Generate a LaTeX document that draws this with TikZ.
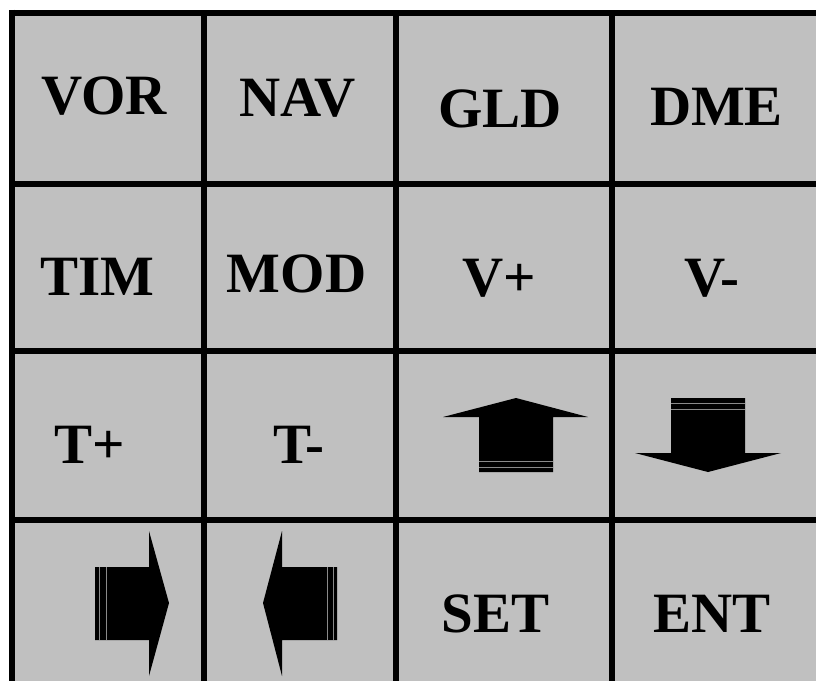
\documentclass[tikz,border=0pt]{standalone}
\usepackage{fontspec}
\setmainfont{Liberation Serif}
\definecolor{keygray}{HTML}{C0C0C0}
\definecolor{stripegray}{HTML}{8A8A8A}
\tikzset{
  gridline/.style={line width=6pt, black},
  keylabel/.style={anchor=base, inner sep=0pt, font=\fontsize{57}{60}\selectfont\bfseries},
  arrowshape/.style={fill=black, draw=none},
  stripe/.style={draw=stripegray, line width=0.9pt}
}
\begin{document}
\begin{tikzpicture}[x=1pt,y=-1pt]
\useasboundingbox (0,0) rectangle (816,681);
\fill[white] (0,0) rectangle (816,681);
\fill[keygray] (12,12.5) rectangle (816,681);
% grid
\draw[gridline] (9,12.5) -- (816,12.5);
\draw[gridline] (12,9.5) -- (12,681);
\foreach \x in {204,396,612} \draw[gridline] (\x,12.5) -- (\x,681);
\foreach \y in {183.5,351,519.5} \draw[gridline] (12,\y) -- (816,\y);
% labels
\node[keylabel] (vor) at (104,114) {VOR};
\node[keylabel] (nav) at (297.5,116) {NAV};
\node[keylabel] (gld) at (500,127) {GLD};
\node[keylabel] (dme) at (716.5,125) {DME};
\node[keylabel] (tim) at (97.5,295) {TIM};
\node[keylabel] (mod) at (296.5,292) {MOD};
\node[keylabel] (vplus) at (499,296) {V+};
\node[keylabel] (vminus) at (712,296) {V-};
\node[keylabel] (tplus) at (90,463) {T+};
\node[keylabel] (tminus) at (299,463) {T-};
\node[keylabel] (set) at (495.5,632) {SET};
\node[keylabel] (ent) at (712,632) {ENT};
% up arrow
\fill[arrowshape] (516,398) -- (588,417) -- (553,417) -- (553,472) -- (479,472) -- (479,417) -- (443,417) -- cycle;
\draw[stripe] (479,461) -- (553,461);
\draw[stripe] (479,467) -- (553,467);
% down arrow
\fill[arrowshape] (671,398) -- (745,398) -- (745,453) -- (781,453) -- (708,472) -- (635,453) -- (671,453) -- cycle;
\draw[stripe] (671,403) -- (745,403);
\draw[stripe] (671,409) -- (745,409);
% right arrow
\fill[arrowshape] (95,567) -- (149,567) -- (149,531) -- (169,603) -- (149,676) -- (149,640) -- (95,640) -- cycle;
\draw[stripe] (99,567) -- (99,640);
\draw[stripe] (106,567) -- (106,640);
% left arrow
\fill[arrowshape] (263,603) -- (282,531) -- (282,567) -- (337,567) -- (337,640) -- (282,640) -- (282,676) -- cycle;
\draw[stripe] (327,567) -- (327,640);
\draw[stripe] (333,567) -- (333,640);
\end{tikzpicture}
\end{document}
